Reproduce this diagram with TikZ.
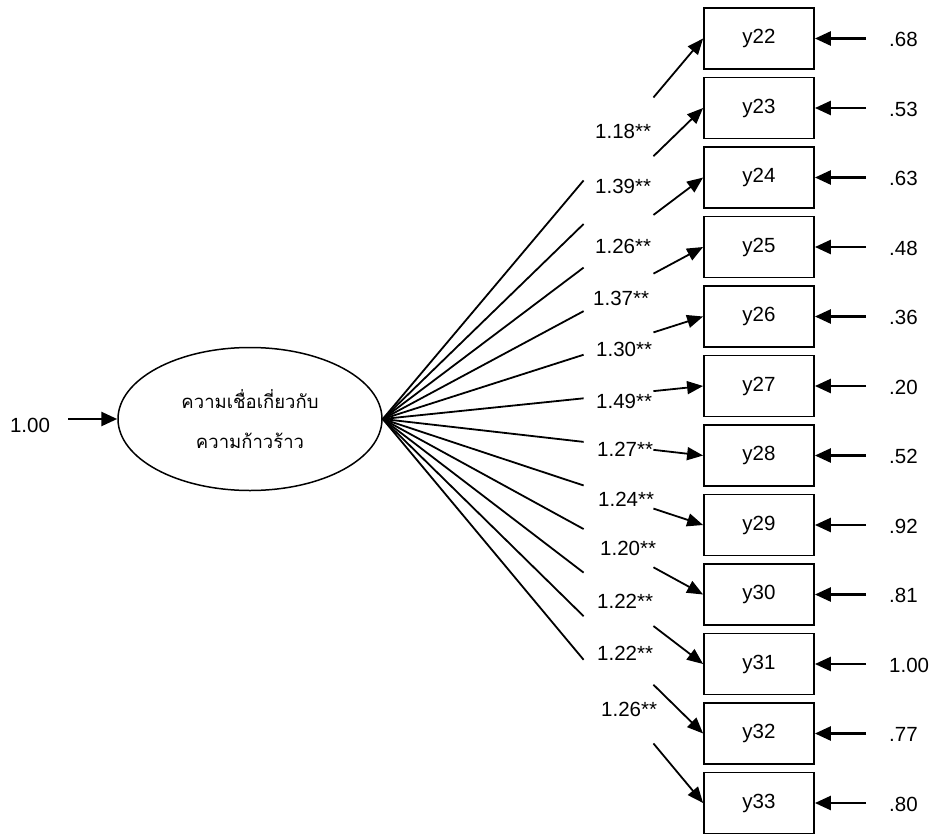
\documentclass[tikz,border=0pt]{standalone}
\usepackage{fontspec}
\setmainfont{Liberation Sans}
\newfontfamily\thaifont[Script=Thai]{Loma}
\usetikzlibrary{arrows.meta,calc,shapes.geometric}

\tikzset{
  txt/.style={font=\fontsize{20.5}{24}\selectfont},
  obsbox/.style={draw, line width=1.8pt, minimum width=110pt, minimum height=61pt,
    inner sep=0pt, txt},
  latent/.style={draw, ellipse, line width=1.5pt, minimum width=264pt, minimum height=143pt,
    inner sep=0pt, align=center, font=\thaifont\fontsize{18.5}{40}\selectfont},
  path/.style={line width=1.8pt},
  arr/.style={line width=1.8pt, -{Triangle[length=16pt,width=13pt]}},
  errarr/.style={line width=2.6pt, -{Triangle[length=16pt,width=14pt]}},
  coef/.style={anchor=west, inner sep=0pt, txt},
  errlab/.style={anchor=west, inner sep=0pt, txt}
}

\begin{document}
\begin{tikzpicture}[x=1pt, y=-1pt]
\useasboundingbox (0,0) rectangle (937,835);

% latent factor
\node[latent] (lat) at (250,419) {ความเชื่อเกี่ยวกับ\\ความก้าวร้าว};
\coordinate (zin) at (68,419);
\draw[errarr] (zin) -- (lat.west);
\node[anchor=center, inner sep=0pt, txt] (zlab) at (30,425) {1.00};

% observed indicators with error terms
\foreach \n/\err [count=\i from 0] in {22/.68,23/.53,24/.63,25/.48,26/.36,27/.20,28/.52,29/.92,30/.81,31/1.00,32/.77,33/.80}{
  \node[obsbox] (y\n) at (759,{38.5+69.5*\i}) {y\n};
  \coordinate (e\n) at (866,{38.5+69.5*\i});
  \draw[errarr] (e\n) -- (y\n.east);
  \node[errlab] (el\n) at (889,{39.5+69.5*\i}) {\err};
  % loading path, broken where the coefficient sits
  \draw[path] (lat.east) -- ($(lat.east)!0.627!(y\n.west)$);
  \draw[arr] ($(lat.east)!0.845!(y\n.west)$) -- (y\n.west);
}

% loading coefficients
\foreach \v/\x/\y [count=\j] in {1.18/595/131,1.39/595/186,1.26/595/246,1.37/593/298,1.30/596/349,1.49/596/401,1.27/597/449,1.24/598/499,1.20/600/548,1.22/597/601,1.22/597/653,1.26/601/709}{
  \node[coef] (c\j) at (\x,\y) {\v**};
}
\end{tikzpicture}
\end{document}
